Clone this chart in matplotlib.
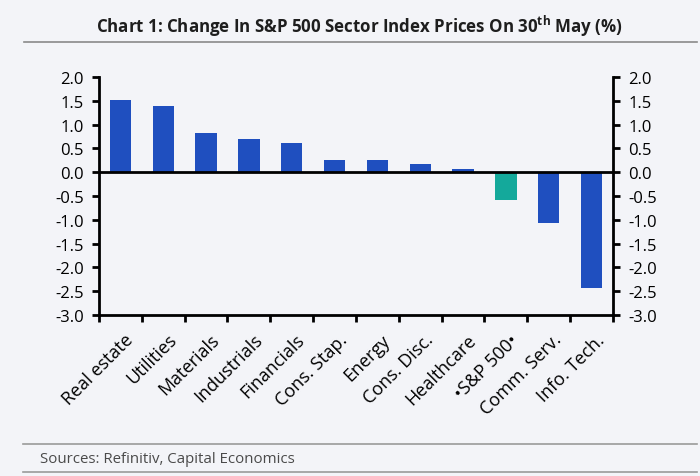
import numpy as np
import matplotlib.pyplot as plt
import matplotlib.transforms as mtransforms

plt.rcParams['font.family'] = ['Open Sans', 'DejaVu Sans']
plt.rcParams['mathtext.fontset'] = 'custom'
plt.rcParams['mathtext.rm'] = 'Open Sans'
plt.rcParams['mathtext.bf'] = 'Open Sans:bold'

# Data
sectors = ['Real estate', 'Utilities', 'Materials', 'Industrials', 'Financials',
           'Cons. Stap.', 'Energy', 'Cons. Disc.', 'Healthcare', '•S&P 500•',
           'Comm. Serv.', 'Info. Tech.']
changes = [1.51, 1.40, 0.83, 0.69, 0.61, 0.25, 0.25, 0.18, 0.07, -0.59, -1.06, -2.44]
is_index = [False] * 9 + [True] + [False] * 2
yticks = [2.0, 1.5, 1.0, 0.5, 0.0, -0.5, -1.0, -1.5, -2.0, -2.5, -3.0]

bg = '#f3f4f8'
blue = '#1f4fbf'
teal = '#14a99b'

fig = plt.figure(figsize=(7, 4.77), dpi=100, facecolor=bg)
ax = fig.add_axes([0.1414, 0.3375, 0.7343, 0.499])
ax.set_facecolor(bg)

x = np.arange(len(sectors))
colors = [teal if f else blue for f in is_index]
ax.bar(x, changes, width=0.5, color=colors, zorder=2)
ax.axhline(0, color='black', lw=2, zorder=3)

ax.set_xlim(-0.5, len(sectors) - 0.5)
ax.set_ylim(-3.0, 2.0)
ax.set_yticks(yticks)
ax.set_yticklabels([f'{v:.1f}' for v in yticks])
ax.tick_params(axis='y', direction='out', length=5, width=2, labelsize=12,
               left=True, right=True, labelleft=True, labelright=True, pad=6)

# ticks at category boundaries, labels at centres
ax.set_xticks(np.arange(len(sectors) + 1) - 0.5)
ax.set_xticklabels([])
ax.tick_params(axis='x', direction='out', length=5, width=2)
ax.set_xticks(x, minor=True)
ax.set_xticklabels(sectors, minor=True, rotation=45, ha='right',
                   rotation_mode='anchor', fontsize=13)
ax.tick_params(axis='x', which='minor', length=0, pad=11)
shift = mtransforms.ScaledTranslation(4 / 100, 0, fig.dpi_scale_trans)
for lbl in ax.get_xticklabels(minor=True):
    lbl.set_transform(lbl.get_transform() + shift)

for s in ['left', 'right', 'bottom']:
    ax.spines[s].set_linewidth(2)
ax.spines['top'].set_visible(False)

fig.text(0.514, 0.944,
         r'Chart 1: Change In S&P 500 Sector Index Prices On 30$^{\mathbf{th}}$ May (%)',
         ha='center', va='center', fontsize=12.2, fontweight='bold', color='#1e1e1e')
fig.add_artist(plt.Line2D([0.034, 0.996], [0.91, 0.91], color='#8a8a8a', lw=1.2))
fig.add_artist(plt.Line2D([0.033, 0.996], [0.067, 0.067], color='#9a9a9a', lw=1.2))
fig.add_artist(plt.Line2D([0.033, 0.996], [0.008, 0.008], color='#9a9a9a', lw=1.2))
fig.text(0.057, 0.036, 'Sources: Refinitiv, Capital Economics', ha='left', va='center',
         fontsize=10.8, color='#4a4a4a')

fig.savefig('out.png', dpi=100, facecolor=bg)
